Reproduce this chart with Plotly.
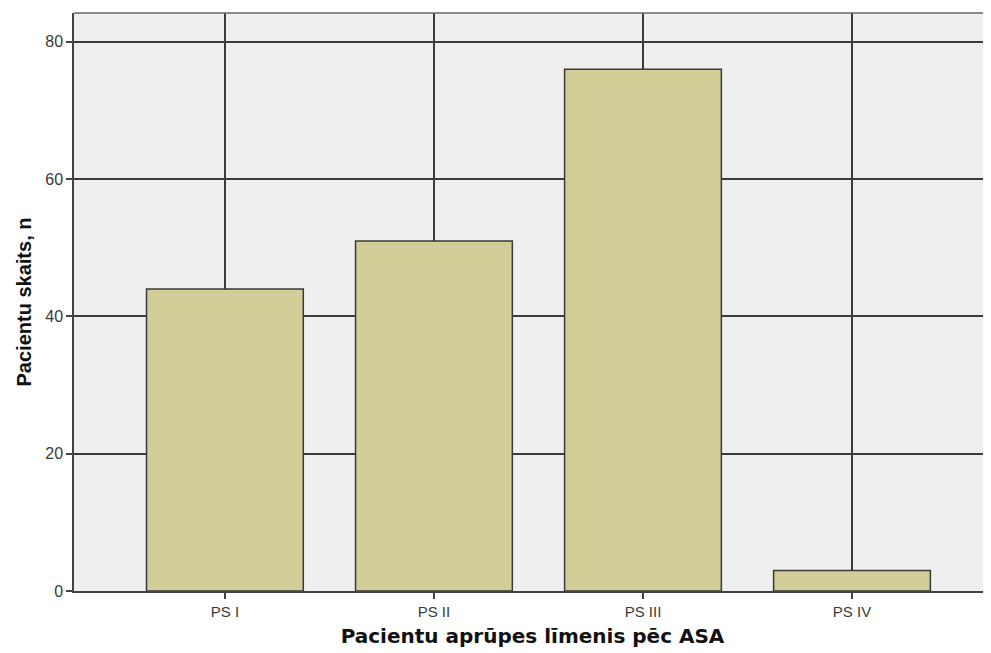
import plotly.graph_objects as go

categories = ["PS I", "PS II", "PS III", "PS IV"]
counts = [44, 51, 76, 3]
y_ticks = [0, 20, 40, 60, 80]

fig = go.Figure()
fig.add_trace(go.Bar(
    x=list(range(len(categories))),
    y=counts,
    width=0.75,
    marker=dict(color="#D3CD98", line=dict(color="#3a3a3a", width=1.5)),
))

fig.update_layout(
    width=983, height=645,
    margin=dict(l=66, r=0, t=5, b=62),
    paper_bgcolor="white",
    plot_bgcolor="#EFEFEF",
    showlegend=False,
    font=dict(family="Liberation Sans, Arial, sans-serif", size=15, color="#222"),
    xaxis=dict(
        range=[-0.722, 3.665],
        tickmode="array",
        tickvals=list(range(len(categories))),
        ticktext=categories,
        showgrid=True, gridcolor="#3c3c3c", gridwidth=1.5,
        ticks="outside", ticklen=6, tickcolor="#444", tickwidth=1.5,
        showline=True, linecolor="#444", linewidth=1.5, mirror=False,
        zeroline=False,
        tickfont=dict(size=15, color="#3a3a3a"),
        title=dict(text="<b>Pacientu aprūpes līmenis pēc ASA</b>",
                   font=dict(family="DejaVu Sans, sans-serif", size=20, color="#111"),
                   standoff=10),
    ),
    yaxis=dict(
        range=[0, 84.2],
        tickmode="array",
        tickvals=y_ticks,
        showgrid=True, gridcolor="#3c3c3c", gridwidth=1.5,
        ticks="outside", ticklen=6, tickcolor="#444", tickwidth=1.5,
        showline=True, linecolor="#444", linewidth=1.5, mirror=False,
        zeroline=False,
        tickfont=dict(size=16, color="#3a3a3a"),
        title=dict(text="<b>Pacientu skaits, n</b>",
                   font=dict(family="Liberation Sans, Arial, sans-serif", size=20, color="#111"),
                   standoff=8),
    ),
)
fig.add_shape(type="line", xref="paper", yref="paper", x0=0, x1=1, y0=1, y1=1,
              line=dict(color="#666", width=1.5))
fig.write_html("out.html")
